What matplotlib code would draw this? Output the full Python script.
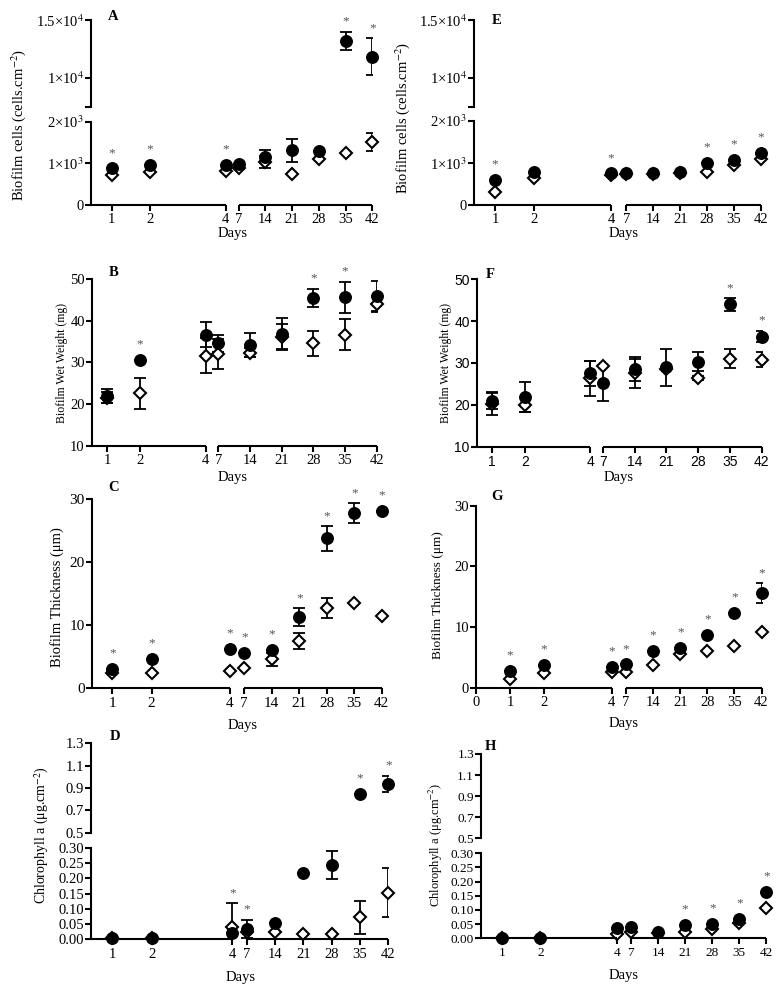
import matplotlib
matplotlib.use('Agg')
import matplotlib.pyplot as plt

plt.rcParams['font.family'] = 'serif'
plt.rcParams['font.serif'] = ['Liberation Serif', 'DejaVu Serif']
plt.rcParams['mathtext.fontset'] = 'stix'

W, H = 782, 989

days = [1, 2, 4, 7, 14, 21, 28, 35, 42]

# A - biofilm cells (left column)
a_circ = [880, 960, 960, 985, 1160, 1310, 1300, 13200, 11800]
a_circ_err = [0, 0, 0, 0, 160, 280, 0, 800, 1600]
a_diam = [730, 800, 815, 900, 1040, 745, 1105, 1260, 1510]
a_diam_err = [0, 0, 0, 0, 140, 0, 0, 0, 210]
a_sig = [1, 2, 4, 35, 42]

# B - wet weight
b_circ = [22.0, 30.6, 36.7, 34.6, 34.2, 36.8, 45.5, 45.6, 45.9]
b_circ_err = [1.7, 0, 3.0, 2.0, 2.9, 3.8, 2.2, 3.8, 3.6]
b_diam = [21.6, 22.6, 31.6, 32.0, 32.3, 36.2, 34.6, 36.6, 44.0]
b_diam_err = [1.3, 3.8, 4.2, 3.6, 1.1, 3.0, 3.0, 3.7, 2.0]
b_sig = [2, 28, 35]

# C - thickness
c_circ = [3.05, 4.65, 6.25, 5.65, 6.1, 11.3, 23.8, 27.8, 28.2]
c_circ_err = [0, 0, 0, 0, 0, 1.4, 1.95, 1.6, 0]
c_diam = [2.5, 2.5, 2.75, 3.15, 4.6, 7.5, 12.8, 13.5, 11.5]
c_diam_err = [0, 0, 0, 0, 1.05, 1.3, 1.6, 0, 0]
c_sig = [1, 2, 4, 7, 14, 21, 28, 35, 42]

# D - chlorophyll a
d_circ = [0.003, 0.003, 0.020, 0.035, 0.053, 0.219, 0.244, 0.846, 0.935]
d_circ_err = [0, 0, 0, 0.03, 0, 0, 0.047, 0, 0.075]
d_diam = [0.005, 0.005, 0.041, 0.025, 0.025, 0.016, 0.018, 0.072, 0.153]
d_diam_err = [0, 0, 0.077, 0, 0, 0, 0, 0.055, 0.08]
d_sig = [4, 7, 35, 42]

# E - biofilm cells (right column)
e_circ = [595, 790, 750, 755, 765, 790, 990, 1065, 1240]
e_circ_err = [0] * 9
e_diam = [320, 650, 710, 730, 730, 755, 775, 950, 1085]
e_diam_err = [0] * 9
e_sig = [1, 4, 28, 35, 42]

# F - wet weight
f_circ = [21.0, 21.9, 27.5, 25.3, 28.5, 29.0, 30.3, 44.0, 36.3]
f_circ_err = [2.1, 3.5, 2.9, 4.3, 2.9, 4.4, 2.3, 1.5, 1.4]
f_diam = [20.2, 20.0, 26.3, 29.3, 27.5, 28.6, 26.5, 31.0, 30.8]
f_diam_err = [2.7, 1.8, 4.2, 0, 3.4, 0, 0.5, 2.3, 1.8]
f_sig = [35, 42]

# G - thickness
g_circ = [2.8, 3.75, 3.45, 3.85, 6.1, 6.5, 8.7, 12.3, 15.6]
g_circ_err = [0, 0, 0, 0, 0, 0, 0, 0, 1.65]
g_diam = [1.45, 2.35, 2.65, 2.65, 3.75, 5.55, 6.05, 6.85, 9.25]
g_diam_err = [0] * 9
g_sig = [1, 2, 4, 7, 14, 21, 28, 35, 42]

# H - chlorophyll a
h_circ = [0.0, 0.0, 0.035, 0.041, 0.021, 0.047, 0.050, 0.067, 0.165]
h_circ_err = [0] * 9
h_diam = [0.0, 0.0, 0.015, 0.023, 0.018, 0.021, 0.032, 0.055, 0.108]
h_diam_err = [0] * 9
h_sig = [21, 28, 35, 42]

cells_ticks_hi = ([7500, 10000, 15000], ['', '1×10$^4$', '1.5×10$^4$'])
cells_ticks_lo = ([0, 1000, 2000], ['0', '1×10$^3$', '2×10$^3$'])
ww_ticks = ([10, 20, 30, 40, 50], ['10', '20', '30', '40', '50'])
th_ticks = ([0, 10, 20, 30], ['0', '10', '20', '30'])
chl_ticks_hi = ([0.5, 0.7, 0.9, 1.1, 1.3], ['0.5', '0.7', '0.9', '1.1', '1.3'])
chl_ticks_lo = ([0, 0.05, 0.10, 0.15, 0.20, 0.25, 0.30],
                ['0.00', '0.05', '0.10', '0.15', '0.20', '0.25', '0.30'])

cells_label = 'Biofilm cells (cells.cm$^{-2}$)'
ww_label = 'Biofilm Wet Weight (mg)'
th_label = 'Biofilm Thickness (μm)'
chl_label = 'Chlorophyll a (μg.cm$^{-2}$)'


def xpos(d, a, g, b):
    # broken day axis: 1-4 linear, gap, then 7-42 weekly
    if d <= 4:
        return (d - 1) * a
    return 3 * a + g + (d - 7) * b / 7


def px_axes(fig, left, right, top, bottom):
    return fig.add_axes([left / W, 1 - bottom / H, (right - left) / W, (bottom - top) / H])


def draw_panel(fig, letter, circ, circ_err, diam, diam_err, sig, lay):
    spine, day1, a, g, b = lay['x']
    xs = [xpos(d, a, g, b) for d in days]
    x_end = xpos(42, a, g, b)
    tick_fs = lay.get('tick_fs', 10.5)
    segs = lay['segs']
    for k, (lo, hi, top, bot, ticks) in enumerate(segs):
        ax = px_axes(fig, spine, day1 + x_end, top, bot)
        ax.set_xlim(spine - day1, x_end)
        ax.set_ylim(lo, hi)
        for s in ['top', 'right', 'bottom']:
            ax.spines[s].set_visible(False)
        ax.spines['left'].set_linewidth(1.5)
        ax.set_yticks(ticks[0], ticks[1])
        ax.tick_params(axis='y', direction='out', length=4, width=1.5, labelsize=tick_fs, pad=1)
        if lay.get('sans'):
            ax.tick_params(labelfontfamily='Liberation Sans')
        last = k == len(segs) - 1
        if last:
            tx = list(xs)
            tl = [str(d) for d in days]
            if lay.get('zero'):
                tx = [xpos(0, a, g, b)] + tx
                tl = ['0'] + tl
            ax.set_xticks(tx, tl)
            ax.tick_params(axis='x', direction='out', length=4, width=1.5, labelsize=tick_fs, pad=2)
            tr = ax.get_xaxis_transform()
            ax.plot([spine - day1, xpos(4, a, g, b)], [0, 0], transform=tr, color='k', lw=1.5,
                    clip_on=False, solid_capstyle='butt', zorder=5)
            ax.plot([xpos(7, a, g, b), x_end], [0, 0], transform=tr, color='k', lw=1.5,
                    clip_on=False, solid_capstyle='butt', zorder=5)
        else:
            ax.tick_params(axis='x', bottom=False, labelbottom=False)
        ax.patch.set_alpha(0)

        pad = (hi - lo) * 0.02
        for vals, errs, mk in [(diam, diam_err, 'D'), (circ, circ_err, 'o')]:
            idx = [i for i in range(len(days)) if lo - pad <= vals[i] <= hi + pad]
            px = [xs[i] for i in idx]
            py = [vals[i] for i in idx]
            pe = [errs[i] for i in idx]
            ax.errorbar(px, py, yerr=pe, fmt='none', ecolor='k', elinewidth=1.3,
                        capsize=4.3, capthick=1.3, zorder=3)
            if mk == 'o':
                ax.plot(px, py, 'o', ms=8.3, color='k', clip_on=False, zorder=6)
            else:
                ax.plot(px, py, 'D', ms=5.9, mfc='white', mec='k', mew=1.5,
                        clip_on=False, zorder=4)

        # significance asterisks
        pps = (bot - top) / (hi - lo)
        for d in sig:
            i = days.index(d)
            if not (lo - pad <= circ[i] <= hi + pad):
                continue
            cands = [(circ[i] - lo) * pps + 5.5, (circ[i] + circ_err[i] - lo) * pps]
            if lo - pad <= diam[i] <= hi + pad:
                cands += [(diam[i] - lo) * pps + 6, (diam[i] + diam_err[i] - lo) * pps]
            ytop = max(cands) + 10
            ax.text(xs[i], lo + ytop / pps, '*', ha='center', va='center', fontsize=9.5,
                    color='#555555', clip_on=False)

    lx, ly, lfs = lay['ylabel']
    fig.text(lx / W, 1 - ly / H, lay['ylabel_text'], rotation=90, ha='center', va='center',
             fontsize=lfs)
    dx, dy = lay['days']
    fig.text(dx / W, 1 - dy / H, 'Days', ha='center', va='center', fontsize=10.5)
    tx, ty = lay['letter']
    fig.text(tx / W, 1 - ty / H, letter, ha='center', va='center', fontsize=10.5, fontweight='bold')


def main():
    fig = plt.figure(figsize=(W / 100, H / 100), dpi=100)

    draw_panel(fig, 'A', a_circ, a_circ_err, a_diam, a_diam_err, a_sig, dict(
        x=(91, 111.7, 38, 13, 26.7),
        segs=[(7500, 15000, 20, 106.5, cells_ticks_hi), (0, 2000, 121.7, 205, cells_ticks_lo)],
        ylabel=(19, 125, 10.5), ylabel_text=cells_label, days=(233, 234), letter=(113, 16)))
    draw_panel(fig, 'B', b_circ, b_circ_err, b_diam, b_diam_err, b_sig, dict(
        x=(91.7, 107.3, 32.8, 12.6, 31.7),
        segs=[(10, 50, 279, 446, ww_ticks)],
        ylabel=(61.7, 363, 8.5), ylabel_text=ww_label, days=(233, 478), letter=(114, 273)))
    draw_panel(fig, 'C', c_circ, c_circ_err, c_diam, c_diam_err, c_sig, dict(
        x=(91.7, 112.3, 39.2, 14.3, 27.5),
        segs=[(0, 30, 499.3, 688.3, th_ticks)], tick_fs=11,
        ylabel=(57, 597, 10.5), ylabel_text=th_label, days=(243, 725), letter=(114, 487)))
    draw_panel(fig, 'D', d_circ, d_circ_err, d_diam, d_diam_err, d_sig, dict(
        x=(91, 112.3, 40, 14.4, 28.3),
        segs=[(0.5, 1.3, 743.3, 832.7, chl_ticks_hi), (0, 0.3, 848, 939.3, chl_ticks_lo)],
        ylabel=(42, 835, 10), ylabel_text=chl_label, days=(240.7, 978), letter=(115, 737)))
    draw_panel(fig, 'E', e_circ, e_circ_err, e_diam, e_diam_err, e_sig, dict(
        x=(473.7, 495, 38.7, 15.3, 26.9),
        segs=[(7500, 15000, 20, 106.5, cells_ticks_hi), (0, 2000, 120.7, 205, cells_ticks_lo)],
        ylabel=(403, 118, 10.5), ylabel_text=cells_label, days=(624, 233), letter=(497, 20)))
    draw_panel(fig, 'F', f_circ, f_circ_err, f_diam, f_diam_err, f_sig, dict(
        x=(476.7, 492, 32.8, 12.7, 31.7), sans=True, tick_fs=10,
        segs=[(10, 50, 279.3, 446.7, ww_ticks)],
        ylabel=(446, 363, 8.5), ylabel_text=ww_label, days=(619, 478), letter=(490, 274)))
    draw_panel(fig, 'G', g_circ, g_circ_err, g_diam, g_diam_err, g_sig, dict(
        x=(476, 510, 33.9, 14.3, 27.1), zero=True,
        segs=[(0, 30, 505.7, 687.7, th_ticks)],
        ylabel=(437.7, 595, 9.5), ylabel_text=th_label, days=(624, 723), letter=(497, 497)))
    draw_panel(fig, 'H', h_circ, h_circ_err, h_diam, h_diam_err, h_sig, dict(
        x=(481, 502, 38.3, 14, 27.1), tick_fs=9.5,
        segs=[(0.5, 1.3, 754, 838.3, chl_ticks_hi), (0, 0.3, 853.3, 938.3, chl_ticks_lo)],
        ylabel=(436, 845, 9), ylabel_text=chl_label, days=(624, 975), letter=(490, 747)))

    fig.savefig('out.png', dpi=100)


if __name__ == '__main__':
    main()
